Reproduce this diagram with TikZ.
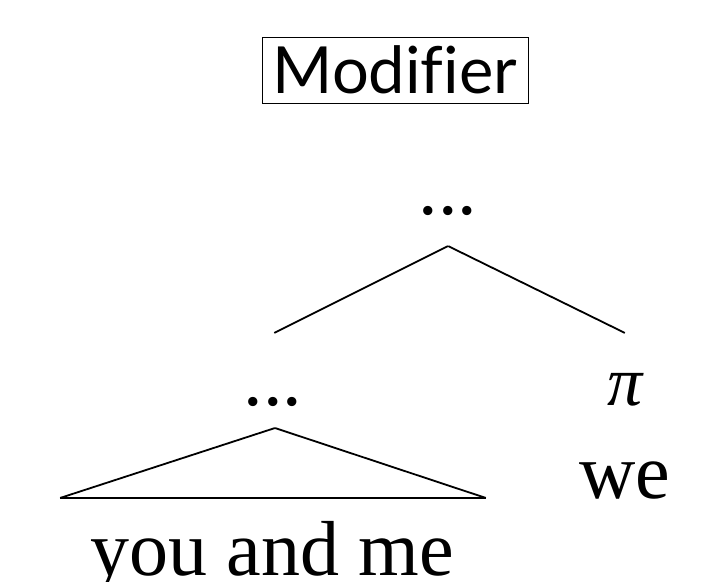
\documentclass[tikz,border=0pt]{standalone}
\usepackage{fontspec}
\setmainfont{Liberation Serif}
\newfontfamily\latofont[Ligatures=NoCommon]{Lato}
\tikzstyle{word}=[font=\fontsize{78}{80}\selectfont, inner sep=0pt, anchor=base]
\tikzstyle{invis-vertex}=[inner sep=0pt, minimum size=0pt]
\tikzstyle{edge}=[draw, line width=1.8pt, -]
\tikzstyle{base edge}=[draw, line width=2.2pt, -]
\tikzstyle{title}=[draw, line width=0.8pt, font=\latofont\fontsize{65}{68}\selectfont, minimum width=266pt, minimum height=66pt, inner sep=0pt]

\begin{document}
\begin{tikzpicture}[x=1pt,y=-1pt]
  \useasboundingbox (0,0) rectangle (711,581);
  % The boxed heading
  \node[title] (modifier) at (395,70) {Modifier};
  % Labels of the tree
  \node[word] (top) at (448,214) {...};
  \node[word] (mid) at (273,405) {...};
  \node[word, font=\fontsize{70}{72}\selectfont] (pi) at (625,405) {\itshape π};
  \node[word] (we) at (625,498) {we};
  \node[word] (words) at (272,575) {you and me};
  % End points of the branches
  \foreach \pos/\name in {{(448,246)/a}, {(274,333)/b}, {(625,333)/c}, {(275,428)/d}, {(60,498)/e}, {(486,498)/f}}
    \node[invis-vertex] (\name) at \pos {};

  % Connect them
  \foreach \source/ \dest in {a/b, a/c, d/e, d/f}
    \path[edge] (\source) -- (\dest);
  \path[base edge] (e) -- (f);
\end{tikzpicture}
\end{document}
